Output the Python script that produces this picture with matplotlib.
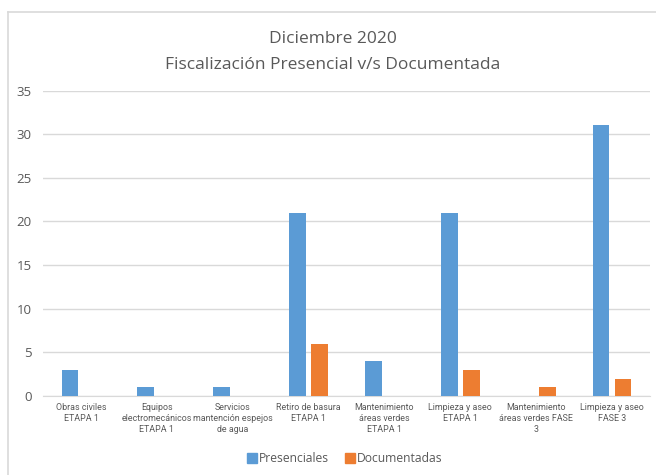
import matplotlib.pyplot as plt
import numpy as np
from matplotlib.lines import Line2D

categories = [
    "Obras civiles\nETAPA 1",
    "Equipos\nelectromecánicos\nETAPA 1",
    "Servicios\nmantención espejos\nde agua",
    "Retiro de basura\nETAPA 1",
    "Mantenimiento\náreas verdes\nETAPA 1",
    "Limpieza y aseo\nETAPA 1",
    "Mantenimiento\náreas verdes FASE\n3",
    "Limpieza y aseo\nFASE 3",
]
presenciales = [3, 1, 1, 21, 4, 21, 0, 31]
documentadas = [0, 0, 0, 6, 0, 3, 1, 2]
yticks = [0, 5, 10, 15, 20, 25, 30, 35]

BLUE = "#5B9BD5"
ORANGE = "#ED7D31"
TEXT = "#595959"
GRID = "#D9D9D9"

W, H = 656, 475
fig = plt.figure(figsize=(W / 100, H / 100), dpi=100)
ax = fig.add_axes([43 / W, 1 - 396 / H, (650 - 43) / W, (396 - 90.5) / H])

x = np.arange(len(categories))
bw = 0.22
ax.bar(x - 0.145, presenciales, bw, color=BLUE, label="Presenciales", zorder=3)
ax.bar(x + 0.145, documentadas, bw, color=ORANGE, label="Documentadas", zorder=3)

ax.set_xlim(-0.5, len(categories) - 0.5)
ax.set_ylim(0, 35)
ax.set_yticks(yticks)
ax.yaxis.grid(True, color=GRID, linewidth=1, zorder=0)
for s in ["top", "right", "left"]:
    ax.spines[s].set_visible(False)
ax.spines["bottom"].set_color(GRID)
ax.tick_params(axis="both", length=0, colors=TEXT)
ax.tick_params(axis="y", labelsize=9.5, pad=8)
ax.set_xticks(x)
ax.set_xticklabels(categories, fontsize=6.4, color=TEXT, linespacing=1.3,
                   family=["Liberation Sans Narrow", "Roboto", "DejaVu Sans"],
                   fontstretch="condensed")
ax.tick_params(axis="x", pad=5)
for lab in ax.get_yticklabels():
    lab.set_family(["Open Sans", "DejaVu Sans"])

fig.text(0.507, 1 - 52 / H, "Diciembre 2020\nFiscalización Presencial v/s Documentada",
         ha="center", va="center", fontsize=12.5, color=TEXT, linespacing=1.9,
         family=["Open Sans", "DejaVu Sans"])

handles = [
    Line2D([], [], marker="s", linestyle="none", markersize=6.5, color=BLUE),
    Line2D([], [], marker="s", linestyle="none", markersize=6.5, color=ORANGE),
]
fig.legend(handles, ["Presenciales", "Documentadas"], loc="center",
           bbox_to_anchor=(0.525, 1 - 459 / H), ncol=2, frameon=False,
           handletextpad=0.1, columnspacing=1.2, handlelength=1.0,
           prop={"family": ["Open Sans", "DejaVu Sans"], "size": 8.7},
           labelcolor=TEXT)

# chart area border (left and top edges visible)
fig.add_artist(Line2D([8 / W, 8 / W], [0, 1 - 12 / H], color=GRID, linewidth=1.2,
                      transform=fig.transFigure))
fig.add_artist(Line2D([8 / W, 1], [1 - 12 / H, 1 - 12 / H], color=GRID, linewidth=1.2,
                      transform=fig.transFigure))

fig.savefig("out.png", dpi=100)
